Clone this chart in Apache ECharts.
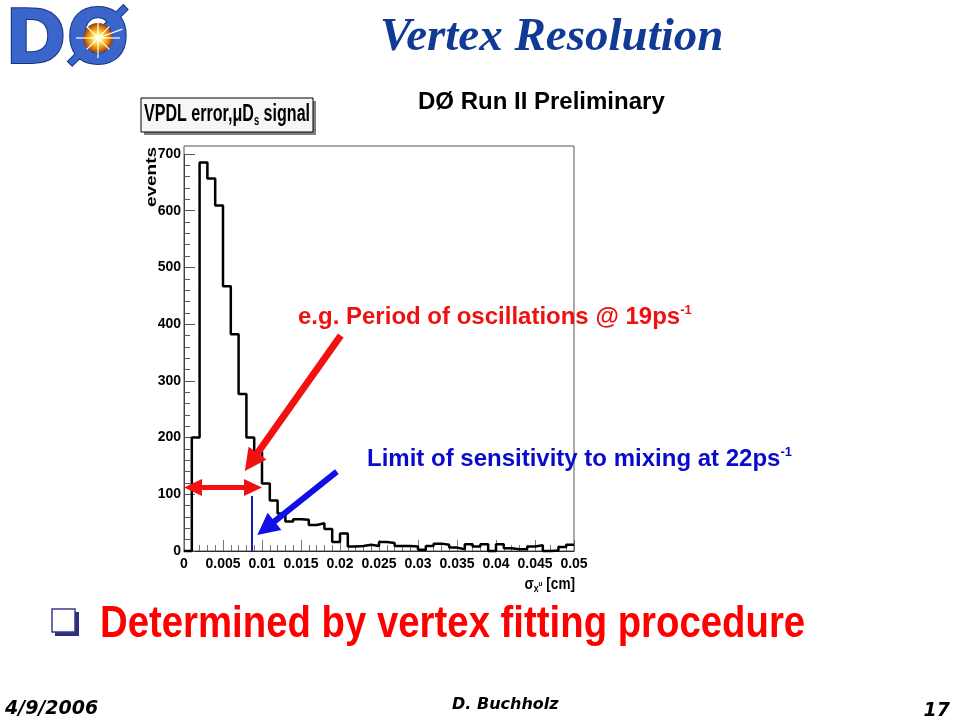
<!DOCTYPE html>
<html><head><meta charset="utf-8">
<script src="https://cdn.jsdelivr.net/npm/echarts/dist/echarts.min.js"></script>
<style>html,body{margin:0;padding:0;background:#fff}#c{width:960px;height:720px}</style>
</head><body><div id="c"></div>
<script>
// ---- data ----
const binWidth = 0.001;
const counts = [0, 200, 685, 657, 609, 467, 382, 277, 200, 175,
                119, 89, 66, 52, 56, 55, 46, 49, 39, 16,
                31, 8, 9, 11, 9, 16, 14, 9, 9, 8,
                2, 9, 13, 11, 6, 3, 12, 8, 12, 0,
                12, 5, 3, 3, 8, 10, 0, 1, 7, 11];
const xRange = [0, 0.05];
const xTickInterval = 0.005;
const yRange = [0, 700];
const yTickInterval = 100;
// annotation anchors in data units
const redSpan = [[0.0, 112], [0.0100, 112]];
const redDiag = [[0.0201, 380], [0.0078, 141]];
const blueDiag = [[0.0196, 140], [0.0094, 28]];
const blueMarker = [[0.0087, 0], [0.0087, 97]];

const stepData = counts.map((c, i) => [+(i * binWidth).toFixed(4), c]);
stepData.push([+(counts.length * binWidth).toFixed(4), counts[counts.length - 1]]);

const chart = echarts.init(document.getElementById('c'), null, {renderer: 'canvas'});
const sans = '"Liberation Sans", Arial, sans-serif';

chart.setOption({
  backgroundColor: '#fff',
  animation: false,
  grid: {left: 184, right: 386, top: 154, bottom: 169, show: false},
  xAxis: {
    type: 'value', min: xRange[0], max: xRange[1], interval: xTickInterval,
    axisLine: {show: true, onZero: false, lineStyle: {color: '#000', width: 1}},
    axisTick: {show: true, inside: true, length: 11, lineStyle: {color: '#777', width: 1}},
    minorTick: {show: true, splitNumber: 5, length: 6, lineStyle: {color: '#777', width: 1}},
    splitLine: {show: false}, minorSplitLine: {show: false},
    axisLabel: {margin: 6, fontFamily: sans, fontWeight: 'bold', fontSize: 14, color: '#000'}
  },
  yAxis: {
    type: 'value', min: yRange[0], max: yRange[1], interval: yTickInterval,
    axisLine: {show: true, lineStyle: {color: '#333', width: 1}},
    axisTick: {show: true, inside: true, length: 11, lineStyle: {color: '#555', width: 1}},
    minorTick: {show: true, splitNumber: 5, length: 6, lineStyle: {color: '#555', width: 1}},
    splitLine: {show: false}, minorSplitLine: {show: false},
    axisLabel: {margin: 3, fontFamily: sans, fontWeight: 'bold', fontSize: 14, color: '#000'}
  },
  series: [{
    type: 'line', step: 'end', data: stepData, symbol: 'none', clip: false,
    lineStyle: {color: '#000', width: 2.5}, z: 5,
    markLine: {
      silent: true, symbol: ['none', 'none'], animation: false,
      label: {show: false},
      lineStyle: {color: '#1a1aa6', width: 2, type: 'solid'},
      data: [[{coord: blueMarker[0]}, {coord: blueMarker[1]}]]
    }
  }]
});

function px(p) { return chart.convertToPixel({gridIndex: 0}, p); }
function arrowPoly(p0, p1, shaftW, headL, headW, both) {
  const dx = p1[0] - p0[0], dy = p1[1] - p0[1];
  const len = Math.hypot(dx, dy), ux = dx / len, uy = dy / len, nx = -uy, ny = ux;
  const hs = shaftW / 2, hw = headW / 2;
  const s = both ? [p0[0] + ux * headL, p0[1] + uy * headL] : p0;
  const e = [p1[0] - ux * headL, p1[1] - uy * headL];
  const pts = [];
  if (both) { pts.push(p0); pts.push([s[0] + nx * hw, s[1] + ny * hw]); }
  pts.push([s[0] + nx * hs, s[1] + ny * hs]);
  pts.push([e[0] + nx * hs, e[1] + ny * hs]);
  pts.push([e[0] + nx * hw, e[1] + ny * hw]);
  pts.push(p1);
  pts.push([e[0] - nx * hw, e[1] - ny * hw]);
  pts.push([e[0] - nx * hs, e[1] - ny * hs]);
  pts.push([s[0] - nx * hs, s[1] - ny * hs]);
  if (both) pts.push([s[0] - nx * hw, s[1] - ny * hw]);
  return pts;
}

const o = px([xRange[0], yRange[0]]);
const tr = px([xRange[1], yRange[1]]);
const frameTop = tr[1] - 8;

const g = [];
// frame
g.push({type: 'rect', z: 1, shape: {x: o[0], y: frameTop, width: tr[0] - o[0], height: o[1] - frameTop},
  style: {fill: 'none', stroke: '#555', lineWidth: 1}});
// arrows
g.push({type: 'polygon', z: 20, shape: {points: arrowPoly(px(redSpan[0]), px(redSpan[1]), 5, 18, 17, true)}, style: {fill: '#f21111'}});
g.push({type: 'polygon', z: 20, shape: {points: arrowPoly(px(redDiag[0]), px(redDiag[1]), 7, 22, 22, false)}, style: {fill: '#f21111'}});
g.push({type: 'polygon', z: 20, shape: {points: arrowPoly(px(blueDiag[0]), px(blueDiag[1]), 6, 22, 22, false)}, style: {fill: '#1010e6'}});

// annotation texts
g.push({type: 'text', z: 30, x: 298, y: 317, style: {
  text: '{m|e.g. Period of oscillations @ 19ps}{s|-1}', textVerticalAlign: 'middle',
  rich: {m: {fontFamily: sans, fontWeight: 'bold', fontSize: 24, lineHeight: 26, fill: '#ee1111', verticalAlign: 'middle'},
         s: {fontFamily: sans, fontWeight: 'bold', fontSize: 13, lineHeight: 26, fill: '#ee1111', verticalAlign: 'top'}}}});
g.push({type: 'text', z: 30, x: 367, y: 459, style: {
  text: '{m|Limit of sensitivity to mixing at 22ps}{s|-1}', textVerticalAlign: 'middle',
  rich: {m: {fontFamily: sans, fontWeight: 'bold', fontSize: 24, lineHeight: 26, fill: '#0a0acc', verticalAlign: 'middle'},
         s: {fontFamily: sans, fontWeight: 'bold', fontSize: 13, lineHeight: 26, fill: '#0a0acc', verticalAlign: 'top'}}}});

// y axis title
g.push({type: 'text', z: 30, x: 152, y: 177, rotation: Math.PI / 2, scaleY: 0.8, style: {
  text: 'events', fontFamily: sans, fontWeight: 'bold', fontSize: 19, fill: '#000',
  textAlign: 'center', textVerticalAlign: 'middle'}});
// x axis title
g.push({type: 'text', z: 30, x: 575, y: 584, scaleX: 0.8, style: {
  text: '{a|σ}{b|x}{c|u}{a| [cm]}', textAlign: 'right', textVerticalAlign: 'middle',
  rich: {a: {fontFamily: sans, fontWeight: 'bold', fontSize: 17, lineHeight: 20, fill: '#000', verticalAlign: 'middle'},
         b: {fontFamily: sans, fontWeight: 'bold', fontSize: 11, lineHeight: 20, fill: '#000', verticalAlign: 'bottom'},
         c: {fontFamily: sans, fontWeight: 'bold', fontSize: 8, lineHeight: 20, fill: '#000', verticalAlign: 'middle'}}}});

// histogram title box
g.push({type: 'rect', z: 10, shape: {x: 144, y: 101, width: 172, height: 34}, style: {fill: '#808080'}});
g.push({type: 'rect', z: 11, shape: {x: 141, y: 98, width: 172, height: 34}, style: {fill: '#f6f6f6', stroke: '#000', lineWidth: 1}});
g.push({type: 'text', z: 12, x: 227, y: 114, scaleX: 0.67, style: {
  text: '{m|VPDL error,μD}{s|s}{m| signal}', textAlign: 'center', textVerticalAlign: 'middle',
  rich: {m: {fontFamily: sans, fontWeight: 'bold', fontSize: 24, lineHeight: 28, fill: '#000', verticalAlign: 'middle'},
         s: {fontFamily: sans, fontWeight: 'bold', fontSize: 14, lineHeight: 28, fill: '#000', verticalAlign: 'bottom'}}}});

// headings
g.push({type: 'text', z: 30, x: 380, y: 38, style: {
  text: 'Vertex Resolution', fontFamily: '"Liberation Serif", "Times New Roman", serif', fontWeight: 'bold', fontStyle: 'italic',
  fontSize: 47, fill: '#113a96', textVerticalAlign: 'middle'}});
g.push({type: 'text', z: 30, x: 418, y: 102, style: {
  text: 'DØ Run II Preliminary', fontFamily: sans, fontWeight: 'bold', fontSize: 24, fill: '#000', textVerticalAlign: 'middle'}});

// bullet line
g.push({type: 'rect', z: 30, shape: {x: 55, y: 612, width: 24, height: 24}, style: {fill: '#2e2e7a'}});
g.push({type: 'rect', z: 31, shape: {x: 52, y: 609, width: 23, height: 23}, style: {fill: '#ffffff', stroke: '#3a3a8c', lineWidth: 1.5}});
g.push({type: 'text', z: 30, x: 100, y: 625, scaleX: 0.852, style: {
  text: 'Determined by vertex fitting procedure', fontFamily: sans, fontWeight: 'bold', fontSize: 45,
  fill: '#ff0000', textVerticalAlign: 'middle'}});

// footer
const comic = '"DejaVu Sans", sans-serif';
g.push({type: 'text', z: 30, x: 5, y: 709, style: {text: '4/9/2006', fontFamily: comic, fontWeight: 'bold', fontStyle: 'italic', fontSize: 19, fill: '#000', textVerticalAlign: 'middle'}});
g.push({type: 'text', z: 30, x: 452, y: 705, style: {text: 'D. Buchholz', fontFamily: comic, fontWeight: 'bold', fontStyle: 'italic', fontSize: 16, fill: '#000', textVerticalAlign: 'middle'}});
g.push({type: 'text', z: 30, x: 950, y: 711, style: {text: '17', fontFamily: comic, fontWeight: 'bold', fontStyle: 'italic', fontSize: 19, fill: '#000', textAlign: 'right', textVerticalAlign: 'middle'}});

// logo
const lcx = 98, lcy = 38;
g.push({type: 'text', z: 30, x: 5, y: 44, style: {text: 'DØ', fontFamily: '"DejaVu Sans", sans-serif', fontWeight: 'bold', fontSize: 74,
  fill: '#3a66cc', stroke: '#17327e', lineWidth: 2, textVerticalAlign: 'middle'}});
g.push({type: 'circle', z: 31, shape: {cx: lcx, cy: lcy, r: 15}, style: {fill: {type: 'radial', x: 0.5, y: 0.5, r: 0.5,
  colorStops: [{offset: 0, color: '#ffffff'}, {offset: 0.3, color: '#ffee55'}, {offset: 0.7, color: '#e88a10'}, {offset: 1, color: '#8a3a10'}]}}});
[[0, 22], [Math.PI / 4, 16], [Math.PI / 2, 20], [3 * Math.PI / 4, 16], [Math.PI, 22], [5 * Math.PI / 4, 16], [3 * Math.PI / 2, 20], [7 * Math.PI / 4, 16], [0.35, 26]].forEach(([a, r]) => {
  g.push({type: 'line', z: 32, shape: {x1: lcx, y1: lcy, x2: lcx + r * Math.cos(a), y2: lcy - r * Math.sin(a)}, style: {stroke: '#ffffff', lineWidth: 1.2}});
});

chart.setOption({graphic: g});
</script></body></html>
